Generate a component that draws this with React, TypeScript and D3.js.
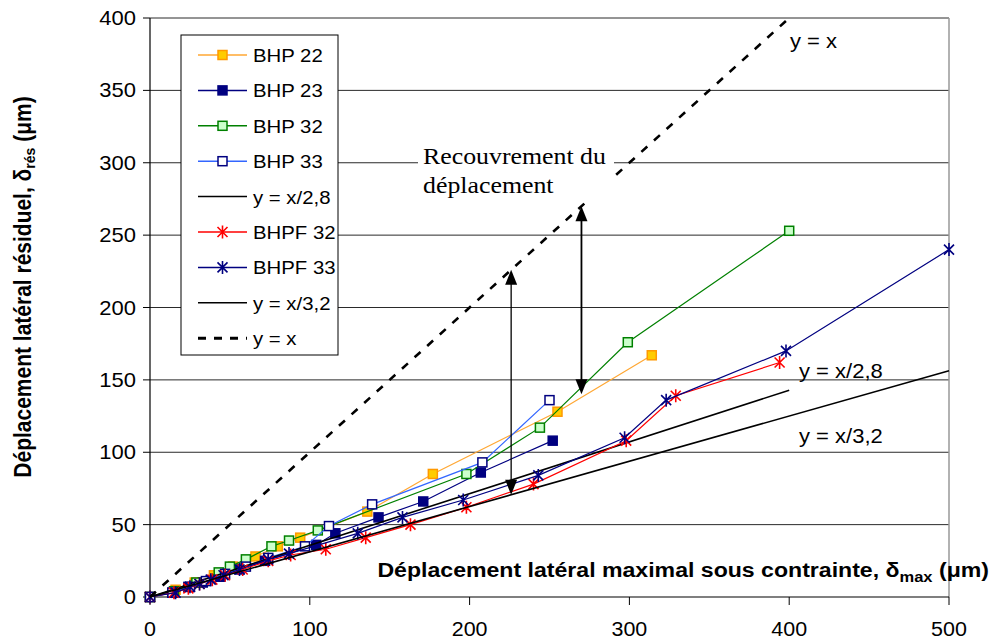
import { useEffect, useRef } from 'react';
import * as d3 from 'd3';

const xTicks = [0, 100, 200, 300, 400, 500];
const yTicks = [0, 50, 100, 150, 200, 250, 300, 350, 400];

const bhp22X = [0, 16, 28, 40, 52, 66, 80, 94, 136, 177, 255, 314];
const bhp22Y = [0, 5, 10, 15, 21, 28, 35, 41, 59, 85, 128, 167];

const bhp23X = [0, 14, 24, 33, 44, 56, 72, 104, 116, 143, 171, 207, 252];
const bhp23Y = [0, 3, 7, 10, 14, 19, 25, 36, 44, 55, 66, 86, 108];

const bhp32X = [0, 15, 29, 43, 50, 60, 76, 87, 105, 198, 244, 299, 400];
const bhp32Y = [0, 4, 10, 17, 21, 26, 35, 39, 46, 85, 117, 176, 253];

const bhp33X = [0, 14, 25, 35, 47, 60, 74, 97, 112, 139, 208, 250];
const bhp33Y = [0, 3, 7, 11, 16, 21, 27, 35, 49, 64, 93, 136];

const bhpf32X = [0, 15, 24, 31, 39, 47, 58, 74, 88, 110, 135, 163, 198, 240, 298, 329, 394];
const bhpf32Y = [0, 3, 6, 9, 12, 15, 19, 25, 29, 33, 41, 50, 62, 78, 108, 139, 162];

const bhpf33X = [0, 16, 25, 31, 38, 46, 56, 74, 87, 130, 158, 196, 243, 297, 323, 398, 500];
const bhpf33Y = [0, 3, 7, 9, 12, 15, 19, 26, 30, 44, 55, 67, 84, 110, 136, 170, 240];

// reference lines, end points only
const r28X = [0, 400];
const r28Y = [0, 142.86];
const r32X = [0, 500];
const r32Y = [0, 156.25];
const idX = [0, 400];
const idY = [0, 400];

// "recouvrement" arrows: x, bottom, top
const arrowX = [226, 270];
const arrowLow = [70.6, 140];
const arrowHigh = [226, 270];

const SX = 1.1; // text in the picture is a bit wide
const SANS = '"Liberation Sans", Arial, sans-serif';
const SERIF = '"Liberation Serif", "Times New Roman", serif';

type Pt = [number, number];
const zip = (xs: number[], ys: number[]): Pt[] => xs.map((v, i) => [v, ys[i]]);

const series = [
    { name: 'BHP 22', pts: zip(bhp22X, bhp22Y), line: '#FFA733', marker: 'square', fill: '#FFCC00', stroke: '#FF9900' },
    { name: 'BHP 23', pts: zip(bhp23X, bhp23Y), line: '#000080', marker: 'square', fill: '#000080', stroke: '#000080' },
    { name: 'BHP 32', pts: zip(bhp32X, bhp32Y), line: '#008000', marker: 'square', fill: '#CCFFCC', stroke: '#008000' },
    { name: 'BHP 33', pts: zip(bhp33X, bhp33Y), line: '#3366FF', marker: 'square', fill: '#FFFFFF', stroke: '#000080' },
    { name: 'y = x/2,8', pts: zip(r28X, r28Y), line: '#000000', marker: 'none', fill: '', stroke: '' },
    { name: 'BHPF 32', pts: zip(bhpf32X, bhpf32Y), line: '#FF0000', marker: 'star', fill: 'none', stroke: '#FF0000' },
    { name: 'BHPF 33', pts: zip(bhpf33X, bhpf33Y), line: '#000080', marker: 'star', fill: 'none', stroke: '#000080' },
    { name: 'y = x/3,2', pts: zip(r32X, r32Y), line: '#000000', marker: 'none', fill: '', stroke: '' },
    { name: 'y = x', pts: zip(idX, idY), line: '#000000', marker: 'dash', fill: '', stroke: '' }
];

function label(sel: any, x: number, y: number, txt: string, size: number, anchor = 'start', weight = 'normal', family = SANS) {
    return sel.append('text')
        .attr('transform', `translate(${x},${y}) scale(${SX},1)`)
        .attr('text-anchor', anchor)
        .style('font-family', family)
        .style('font-size', `${size}px`)
        .style('font-weight', weight)
        .style('fill', '#000')
        .text(txt);
}

function marker(sel: any, kind: string, cx: number, cy: number, fill: string, stroke: string) {
    if (kind === 'square') {
        sel.append('rect')
            .attr('x', cx - 4.5).attr('y', cy - 4.5)
            .attr('width', 9).attr('height', 9)
            .attr('fill', fill).attr('stroke', stroke).attr('stroke-width', 1.5);
    } else if (kind === 'star') {
        sel.append('path')
            .attr('d', `M${cx - 5},${cy - 5}L${cx + 5},${cy + 5}M${cx - 5},${cy + 5}L${cx + 5},${cy - 5}M${cx},${cy - 6.5}L${cx},${cy + 6.5}`)
            .attr('fill', 'none').attr('stroke', stroke).attr('stroke-width', 1.6);
    }
}

export default function App() {
    const svgRef = useRef<SVGSVGElement>(null);

    useEffect(() => {
        if (!svgRef.current) return;
        const svg = d3.select(svgRef.current);
        svg.selectAll('*').remove();

        const x = d3.scaleLinear().domain([0, 500]).range([150, 949]);
        const y = d3.scaleLinear().domain([0, 400]).range([597, 18]);

        // grid
        svg.append('g')
            .selectAll('line')
            .data(yTicks.filter(t => t > 0))
            .enter()
            .append('line')
            .attr('x1', x(0)).attr('x2', x(500))
            .attr('y1', d => y(d)).attr('y2', d => y(d))
            .attr('stroke', '#2a2a2a').attr('stroke-width', 1);

        // right border
        svg.append('line')
            .attr('x1', x(500)).attr('x2', x(500))
            .attr('y1', y(0)).attr('y2', y(400))
            .attr('stroke', '#999').attr('stroke-width', 1.5);

        // axes
        const ax = svg.append('g').attr('transform', `translate(0,${y(0)})`);
        ax.append('line').attr('x1', x(0)).attr('x2', x(500)).attr('stroke', '#000').attr('stroke-width', 1.2);
        xTicks.forEach(t => {
            ax.append('line').attr('x1', x(t)).attr('x2', x(t)).attr('y1', 0).attr('y2', 8).attr('stroke', '#000');
            label(ax, x(t), 39, String(t), 19.5, 'middle');
        });

        const ay = svg.append('g').attr('transform', `translate(${x(0)},0)`);
        ay.append('line').attr('y1', y(0)).attr('y2', y(400)).attr('stroke', '#000').attr('stroke-width', 1.2);
        yTicks.forEach(t => {
            ay.append('line').attr('x1', -7).attr('x2', 0).attr('y1', y(t)).attr('y2', y(t)).attr('stroke', '#000');
            label(ay, -14, y(t) + 7, String(t), 20, 'end');
        });

        // series
        const line = d3.line<Pt>().x(d => x(d[0])).y(d => y(d[1]));
        series.forEach(s => {
            const g = svg.append('g');
            const path = g.append('path')
                .datum(s.pts)
                .attr('fill', 'none')
                .attr('stroke', s.line)
                .attr('d', line);
            if (s.marker === 'dash') {
                path.attr('stroke-width', 2.6).attr('stroke-dasharray', '8,9');
            } else if (s.marker === 'none') {
                path.attr('stroke-width', 1.6);
            } else {
                path.attr('stroke-width', 1.2);
                s.pts.forEach(p => marker(g, s.marker, x(p[0]), y(p[1]), s.fill, s.stroke));
            }
        });

        // arrows
        arrowX.forEach((ax0, i) => {
            const g = svg.append('g');
            const px = x(ax0);
            const lo = y(arrowLow[i]);
            const hi = y(arrowHigh[i]);
            g.append('line').attr('x1', px).attr('x2', px).attr('y1', hi + 12).attr('y2', lo - 12)
                .attr('stroke', '#000').attr('stroke-width', i === 0 ? 1.3 : 1.8);
            g.append('path').attr('d', `M${px},${hi}L${px - 6},${hi + 15}L${px + 6},${hi + 15}Z`).attr('fill', '#000');
            g.append('path').attr('d', `M${px},${lo}L${px - 6},${lo - 15}L${px + 6},${lo - 15}Z`).attr('fill', '#000');
        });

        // annotation
        svg.append('rect').attr('x', 418).attr('y', 140).attr('width', 196).attr('height', 60).attr('fill', '#fff');
        label(svg, 423, 164, 'Recouvrement du', 23.5, 'start', 'normal', SERIF);
        label(svg, 423, 193, 'déplacement', 23.5, 'start', 'normal', SERIF);

        label(svg, 790, 48, 'y = x', 20);
        label(svg, 799, 378, 'y = x/2,8', 20);
        label(svg, 799, 443, 'y = x/3,2', 20);

        // axis titles
        const xt = label(svg, 989, 577, 'Déplacement latéral maximal sous contrainte, δ', 21, 'end', 'bold');
        xt.append('tspan').attr('dy', 5).style('font-size', '15px').text('max');
        xt.append('tspan').attr('dy', -5).text(' (μm)');

        const yt = svg.append('text')
            .attr('transform', `translate(31,287) rotate(-90) scale(1,${SX})`)
            .attr('text-anchor', 'middle')
            .style('font-family', SANS)
            .style('font-size', '21px')
            .style('font-weight', 'bold')
            .text('Déplacement latéral résiduel, δ');
        yt.append('tspan').attr('dy', 4).style('font-size', '14px').text('rés');
        yt.append('tspan').attr('dy', -4).text(' (μm)');

        // legend
        const lg = svg.append('g');
        lg.append('rect').attr('x', 181).attr('y', 35).attr('width', 157).attr('height', 320)
            .attr('fill', '#fff').attr('stroke', '#000').attr('stroke-width', 1);
        series.forEach((s, i) => {
            const cy = 55 + i * 35.4;
            const l = lg.append('line').attr('x1', 198).attr('x2', 247).attr('y1', cy).attr('y2', cy)
                .attr('stroke', s.line);
            if (s.marker === 'dash') l.attr('stroke-width', 3).attr('stroke-dasharray', '8,8');
            else l.attr('stroke-width', 1.5);
            if (s.marker === 'square' || s.marker === 'star') marker(lg, s.marker, 222.5, cy, s.fill, s.stroke);
            label(lg, 253, cy + 7, s.name, 18.5);
        });
    }, []);

    return (
        <svg
            ref={svgRef}
            width={991}
            height={641}
            style={{ position: 'absolute', left: 0, top: 0, background: '#fff' }}
        />
    );
}
